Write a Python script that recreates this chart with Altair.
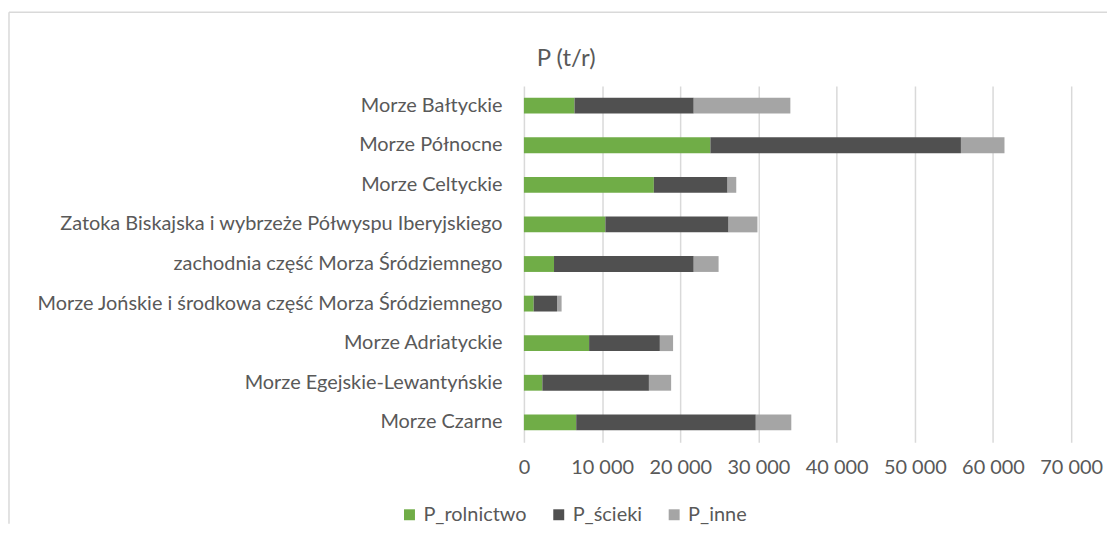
import altair as alt
import pandas as pd

categories = [
    "Morze Bałtyckie",
    "Morze Północne",
    "Morze Celtyckie",
    "Zatoka Biskajska i wybrzeże Półwyspu Iberyjskiego",
    "zachodnia część Morza Śródziemnego",
    "Morze Jońskie i środkowa część Morza Śródziemnego",
    "Morze Adriatyckie",
    "Morze Egejskie-Lewantyńskie",
    "Morze Czarne",
]
series_names = ["P_rolnictwo", "P_ścieki", "P_inne"]
p_rolnictwo = [6470, 23850, 16620, 10420, 3850, 1250, 8340, 2360, 6690]
p_scieki = [15250, 32050, 9430, 15760, 17870, 2980, 9050, 13630, 22970]
p_inne = [12360, 5570, 1110, 3690, 3180, 590, 1690, 2840, 4540]
x_ticks = [0, 10000, 20000, 30000, 40000, 50000, 60000, 70000]
colors = ["#70AD47", "#505050", "#A5A5A5"]
chart_title = "P (t/r)"

rows = []
for i, c in enumerate(categories):
    for k, (name, vals) in enumerate(zip(series_names, [p_rolnictwo, p_scieki, p_inne])):
        rows.append({"category": c, "series": name, "value": vals[i], "order": k})
df = pd.DataFrame(rows)

FONT = "Lato"
TXT = "#595959"
FS = 20
W, H = 550, 358

bars = alt.Chart(df).mark_bar().encode(
    y=alt.Y(
        "category:N",
        sort=categories,
        title=None,
        scale=alt.Scale(paddingInner=0.6, paddingOuter=0.3),
        axis=alt.Axis(domain=False, ticks=False, tickSize=0, labelPadding=22,
                      labelFontSize=FS, labelColor=TXT, labelFont=FONT, labelLimit=700,
                      labelOverlap=False),
    ),
    x=alt.X(
        "value:Q",
        stack="zero",
        title=None,
        scale=alt.Scale(domain=[0, 70000], nice=False),
        axis=alt.Axis(values=x_ticks, domain=False, ticks=False, tickSize=0, grid=True,
                      gridColor="#d9d9d9", gridWidth=1.5, labelPadding=16,
                      labelFontSize=FS, labelColor=TXT, labelFont=FONT, labelOverlap=False,
                      labelFlush=False, labelBound=False,
                      labelExpr="replace(format(datum.value, ','), ',', ' ')"),
    ),
    color=alt.Color(
        "series:N",
        scale=alt.Scale(domain=series_names, range=colors),
        sort=series_names,
        title=None,
        legend=alt.Legend(orient="none", legendX=-125, legendY=421, direction="horizontal",
                          symbolType="square", symbolSize=121, symbolStrokeWidth=0,
                          labelFontSize=FS, labelColor=TXT, labelFont=FONT,
                          labelOffset=4, columnPadding=22),
    ),
    order=alt.Order("order:Q"),
)

one = pd.DataFrame({"a": [0]})
left_border = alt.Chart(one).mark_rule(color="#d9d9d9", strokeWidth=1.5, clip=False).encode(
    x=alt.value(-517.5), y=alt.value(-74), y2=alt.value(440)
)
top_border = alt.Chart(one).mark_rule(color="#d9d9d9", strokeWidth=1.5, clip=False).encode(
    x=alt.value(-517.5), x2=alt.value(586), y=alt.value(-74)
)
title_mark = alt.Chart(one).mark_text(
    font=FONT, fontSize=24, color=TXT, align="center", baseline="middle"
).encode(x=alt.value(42.5), y=alt.value(-27), text=alt.value(chart_title))

chart = alt.layer(left_border, top_border, title_mark, bars).properties(
    width=W,
    height=H,
    autosize=alt.AutoSizeParams(type="none"),
    padding={"left": 518.5, "top": 77, "right": 36, "bottom": 85},
).configure_view(stroke=None)

chart.save("out.html", embed_options={"renderer": "svg", "actions": False})
